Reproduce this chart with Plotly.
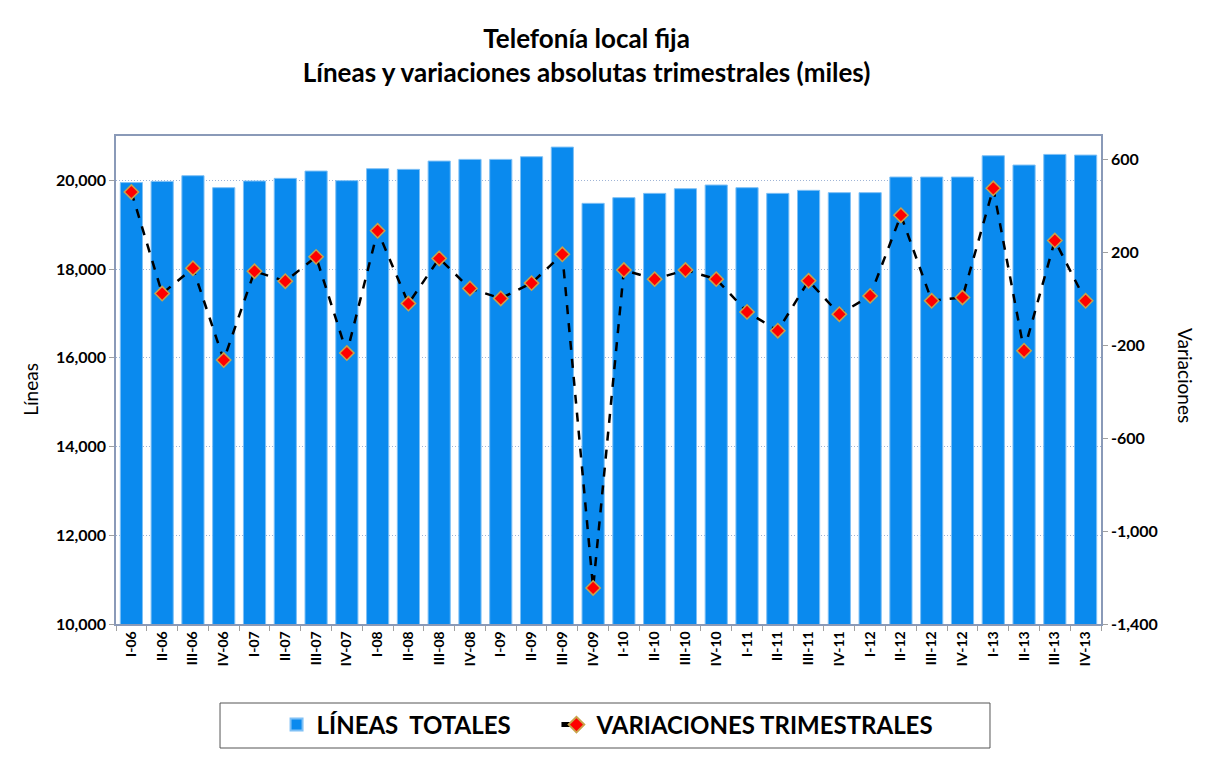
import plotly.graph_objects as go

categories = ["I-06", "II-06", "III-06", "IV-06", "I-07", "II-07", "III-07", "IV-07",
              "I-08", "II-08", "III-08", "IV-08", "I-09", "II-09", "III-09", "IV-09",
              "I-10", "II-10", "III-10", "IV-10", "I-11", "II-11", "III-11", "IV-11",
              "I-12", "II-12", "III-12", "IV-12", "I-13", "II-13", "III-13", "IV-13"]

lineas_totales = [19950, 19977, 20105, 19835, 19985, 20045, 20210, 19993,
                  20263, 20248, 20435, 20473, 20473, 20533, 20750, 19482,
                  19610, 19707, 19812, 19895, 19835, 19707, 19775, 19723,
                  19723, 20075, 20075, 20075, 20555, 20345, 20585, 20570]

variaciones = [459, 22, 131, -264, 118, 75, 180, -234,
               292, -21, 173, 44, 1, 67, 191, -1245,
               123, 84, 123, 84, -57, -138, 77, -67,
               12, 359, -9, 5, 475, -224, 250, -9]

left_ticks = [10000, 12000, 14000, 16000, 18000, 20000]
right_ticks = [-1400, -1000, -600, -200, 200, 600]

FONT = "Lato"
frame = "#8A9AB8"

fig = go.Figure()
fig.add_trace(go.Bar(
    x=categories, y=lineas_totales, name="LÍNEAS  TOTALES" + "\u00a0" * 7,
    marker=dict(color="#0A8AEE", line=dict(color="#7FC0F5", width=1)),
    yaxis="y",
))
fig.add_trace(go.Scatter(
    x=categories, y=variaciones, name="VARIACIONES TRIMESTRALES",
    mode="lines+markers", yaxis="y2",
    line=dict(color="black", width=2.5, dash="dash"),
    marker=dict(symbol="diamond", size=11, color="#FF0000",
                line=dict(color="#C9A24A", width=1.5)),
))

fig.update_layout(
    width=1212, height=762,
    margin=dict(l=116, r=111, t=136, b=138),
    paper_bgcolor="white", plot_bgcolor="white",
    font=dict(family=FONT, color="black"),
    bargap=0.28,
    showlegend=True,
    title=dict(
        text="<b>Telefonía local fija</b><br><b>Líneas y variaciones absolutas trimestrales (miles)</b>",
        x=0.484, xanchor="center", y=0.937, yanchor="top",
        font=dict(size=26, family=FONT, color="black"),
    ),
    xaxis=dict(
        type="category", range=[-0.5, len(categories) - 0.5],
        tickangle=-90, tickson="boundaries",
        ticks="outside", ticklen=5, tickcolor="#A0A0A0",
        showline=True, linecolor=frame, linewidth=1.5, mirror=True,
        tickfont=dict(size=14, family=FONT, color="black", weight="bold"),
        showgrid=False,
    ),
    yaxis=dict(
        range=[10000, 21000], tickvals=left_ticks,
        ticktext=[f"{v:,}" for v in left_ticks],
        ticks="outside", ticklen=5, tickcolor="#A0A0A0",
        showline=True, linecolor=frame, linewidth=1.5,
        showgrid=True, gridcolor="#9FB4D6", griddash="1px,2px", gridwidth=1,
        tickfont=dict(size=16, family=FONT, color="black", weight="bold"),
        zeroline=False,
    ),
    yaxis2=dict(
        range=[-1400, 700], tickvals=right_ticks,
        ticktext=[f"{v:,}" for v in right_ticks],
        overlaying="y", side="right",
        ticks="outside", ticklen=5, tickcolor="#A0A0A0",
        showline=True, linecolor=frame, linewidth=1.5,
        showgrid=False, zeroline=False,
        tickfont=dict(size=16, family=FONT, color="black", weight="bold"),
    ),
    legend=dict(
        orientation="h", x=0.163, xanchor="left", y=-0.207, yanchor="middle",
        borderwidth=0, bgcolor="rgba(0,0,0,0)",
        font=dict(size=24, family=FONT, color="black", weight="bold"),
        itemsizing="constant",
    ),
    shapes=[
        dict(type="rect", xref="paper", yref="paper",
             x0=0.1056, x1=0.8873, y0=-0.2541, y1=-0.1619,
             line=dict(color="#555555", width=1), fillcolor="rgba(0,0,0,0)"),
    ],
    annotations=[
        dict(text="Líneas", xref="paper", yref="paper", x=-0.1, y=0.48,
             textangle=-90, showarrow=False, font=dict(size=19, family=FONT)),
        dict(text="Variaciones", xref="paper", yref="paper", x=1.1, y=0.51,
             textangle=90, showarrow=False, font=dict(size=19, family=FONT)),
    ],
)

fig.write_html("out.html")
